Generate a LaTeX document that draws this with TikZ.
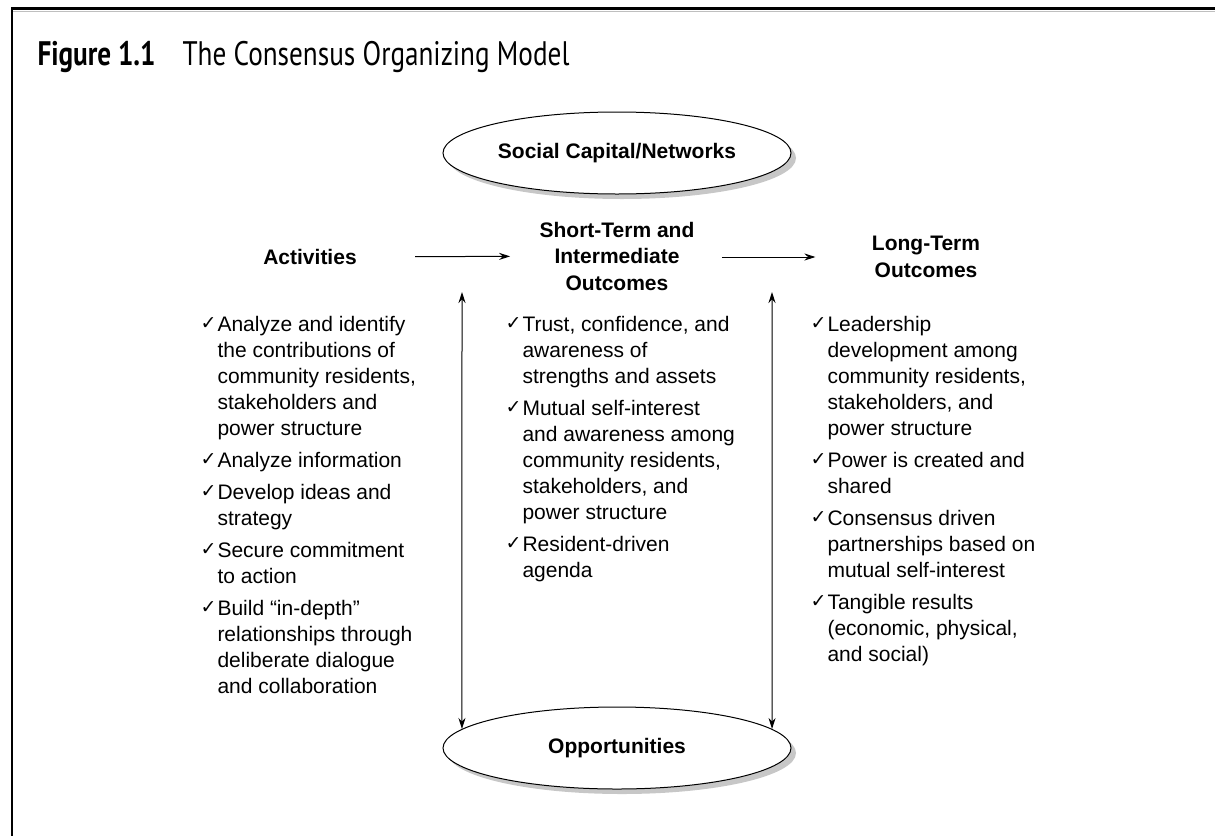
\documentclass[tikz,border=0pt]{standalone}
\usepackage{fontspec}
\setmainfont{Liberation Sans}
\newfontfamily\titlefont[FakeStretch=0.8]{PT Sans}
\newfontfamily\chkfont{DejaVu Sans}
\usetikzlibrary{shapes.geometric,shadows,arrows.meta}

\newcommand{\bodysize}{\fontsize{21}{26}\selectfont}
\newcommand{\ck}{\makebox[15pt][l]{\hspace*{-2pt}\raisebox{2pt}{\chkfont\fontsize{19}{19}\selectfont ✓}}}
\newcommand{\ind}{\hspace*{15pt}}

\tikzset{oval/.style={ellipse,draw,line width=1pt,fill=white,minimum width=348pt,minimum height=82pt,inner sep=0pt,font=\bodysize\bfseries,drop shadow={shadow xshift=5pt,shadow yshift=-5pt,fill=black!22,opacity=1}}}
\tikzset{head/.style={align=center,inner sep=0pt,font=\fontsize{21}{26.5}\selectfont\bfseries}}
\tikzset{col/.style={align=left,anchor=north west,inner sep=0pt,font=\bodysize}}

\begin{document}
\begin{tikzpicture}[x=1pt,y=-1pt,>={Stealth[length=11pt,width=7pt]},line width=1pt]
        \useasboundingbox (0,0) rectangle (1215,836);
        \draw[black!25,line width=1.5pt] (13,11.5) -- (1215,11.5);
        \draw[line width=2.5pt] (1215,8.5) -- (12,8.5) -- (12,836);

        \node[anchor=base west,inner sep=0pt,font=\titlefont\fontsize{34}{40}\selectfont] (title) at (37,65) {\textbf{Figure 1.1}\hspace{27pt}The Consensus Organizing Model};

        \node[oval] (soc) at (617,153) {Social Capital/Networks};
        \node[oval] (opp) at (617,748) {Opportunities};

        \node[head] (act) at (310,257) {Activities};
        \node[head] (mid) at (617,256) {Short-Term and\\Intermediate\\Outcomes};
        \node[head] (long) at (926,257) {Long-Term\\Outcomes};

        \draw [->,shorten <=58pt,shorten >=29pt] (act) -- (mid);
        \draw [->,shorten <=27pt,shorten >=56pt] (mid.east |- act) -- (long.west |- act);

        \coordinate (up1) at (462,292);
        \coordinate (up2) at (772,292);
        \draw [<->] (up1) -- (opp.173);
        \draw [<->] (up2) -- (opp.7);

        \node[col] (list1) at (202,316) {\ck Analyze and identify\\ \ind the contributions of\\ \ind community residents,\\ \ind stakeholders and\\ \ind power structure\\[6pt]
            \ck Analyze information\\[6pt]
            \ck Develop ideas and\\ \ind strategy\\[6pt]
            \ck Secure commitment\\ \ind to action\\[6pt]
            \ck Build ``in-depth''\\ \ind relationships through\\ \ind deliberate dialogue\\ \ind and collaboration};
        \node[col] (list2) at (507,316) {\ck Trust, confidence, and\\ \ind awareness of\\ \ind strengths and assets\\[6pt]
            \ck Mutual self-interest\\ \ind and awareness among\\ \ind community residents,\\ \ind stakeholders, and\\ \ind power structure\\[6pt]
            \ck Resident-driven\\ \ind agenda};
        \node[col] (list3) at (812,316) {\ck Leadership\\ \ind development among\\ \ind community residents,\\ \ind stakeholders, and\\ \ind power structure\\[6pt]
            \ck Power is created and\\ \ind shared\\[6pt]
            \ck Consensus driven\\ \ind partnerships based on\\ \ind mutual self-interest\\[6pt]
            \ck Tangible results\\ \ind (economic, physical,\\ \ind and social)};
\end{tikzpicture}
\end{document}
